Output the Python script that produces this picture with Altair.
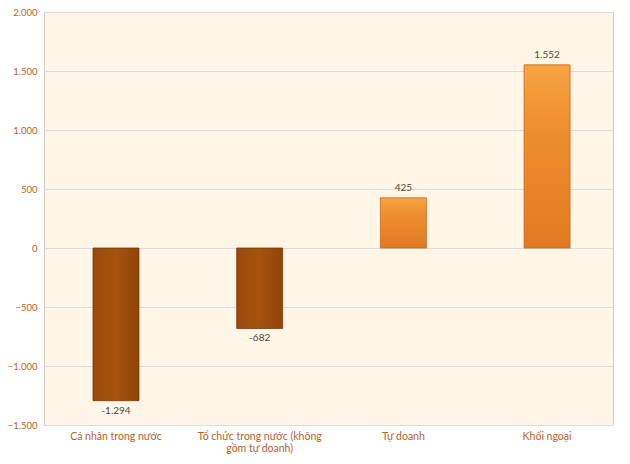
import altair as alt
import pandas as pd

categories = ["Cá nhân trong nước", "Tổ chức trong nước (không|gồm tự doanh)", "Tự doanh", "Khối ngoại"]
values = [-1294, -682, 425, 1552]
labels = ["-1.294", "-682", "425", "1.552"]

df = pd.DataFrame({"cat": categories, "val": values, "lab": labels})

x = alt.X("cat:N", sort=categories, title=None,
          scale=alt.Scale(paddingInner=0.68, paddingOuter=0.32, align=0.533),
          axis=alt.Axis(labelAngle=0, labelExpr="split(datum.label, '|')",
                        labelColor="#B8622A", labelFont="Lato", labelFontSize=10.5,
                        labelPadding=6, ticks=False, domain=False, labelLineHeight=12))
y = alt.Y("val:Q", title=None,
          scale=alt.Scale(domain=[-1500, 2000], nice=False),
          axis=alt.Axis(values=[-1500, -1000, -500, 0, 500, 1000, 1500, 2000],
                        labelExpr="replace(format(datum.value, ','), ',', '.')",
                        labelColor="#B8622A", labelFont="Lato", labelFontSize=9.5,
                        labelPadding=7, ticks=False, domain=False,
                        grid=True, gridColor="#DCDCDC", gridWidth=1))

base = alt.Chart(df)

neg_grad = alt.Gradient(gradient="linear", x1=0, x2=1, y1=0, y2=0,
                        stops=[alt.GradientStop(color="#994A0C", offset=0),
                               alt.GradientStop(color="#A6520F", offset=0.5),
                               alt.GradientStop(color="#904509", offset=1)])
pos_grad = alt.Gradient(gradient="linear", x1=0, x2=0, y1=0, y2=1,
                        stops=[alt.GradientStop(color="#F9A544", offset=0),
                               alt.GradientStop(color="#F09030", offset=0.3),
                               alt.GradientStop(color="#E07A22", offset=1)])

neg = base.transform_filter("datum.val < 0").mark_bar(
    color=neg_grad, stroke="#7A3A08", strokeWidth=0.8
).encode(x=x, y=y, y2=alt.datum(0))
pos = base.transform_filter("datum.val >= 0").mark_bar(
    color=pos_grad, stroke="#C8661A", strokeWidth=0.8
).encode(x=x, y=y, y2=alt.datum(0))

txt_neg = base.transform_filter("datum.val < 0").mark_text(
    baseline="top", dy=5, font="Lato", fontSize=10, color="#5A4636"
).encode(x=x, y=y, text="lab:N")
txt_pos = base.transform_filter("datum.val >= 0").mark_text(
    baseline="bottom", dy=-5, font="Lato", fontSize=10, color="#5A4636"
).encode(x=x, y=y, text="lab:N")

chart = alt.layer(neg, pos, txt_neg, txt_pos).properties(
    width=569, height=413,
    autosize=alt.AutoSizeParams(type="none"),
    padding={"left": 36, "top": 4, "right": 5, "bottom": 31},
    background="white"
).configure_view(
    fill="#FFF6E8", stroke="#D8CFC4", strokeWidth=1
)

chart.save("out.html", embed_options={"renderer": "svg", "actions": False})
